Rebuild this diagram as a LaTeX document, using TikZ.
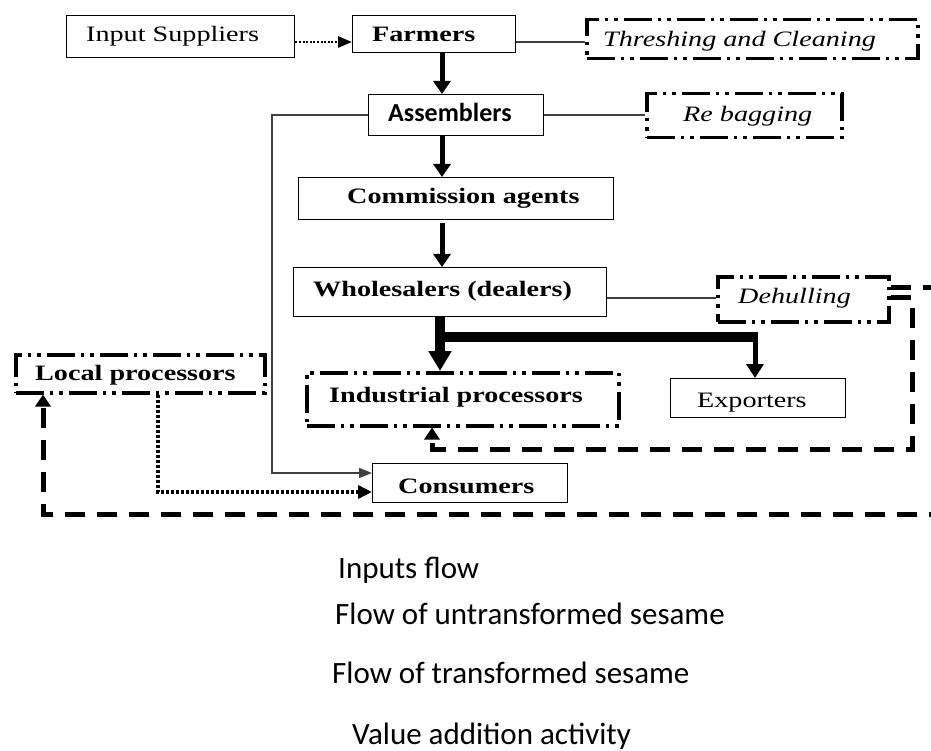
\documentclass[tikz,border=0pt]{standalone}
\usepackage{fontspec}
\setmainfont{Liberation Serif}
\newfontfamily\calib{Carlito}
\usetikzlibrary{arrows.meta}
\newcommand{\strtxt}[1]{\scalebox{1.28}[1]{#1}}
\begin{document}
\begin{tikzpicture}[x=1pt,y=-1pt,
  box/.style={draw=black, line width=1.3pt, inner sep=0pt, anchor=north west},
  vabox/.style={draw=black, line width=3.5pt, inner sep=0pt, anchor=north west, line cap=butt,
     dash pattern=on 28pt off 6pt on 3.5pt off 6pt on 3.5pt off 6pt},
  txt/.style={inner sep=0pt, anchor=base west, font=\fontsize{22}{26}\selectfont},
  btxt/.style={txt, font=\fontsize{22}{26}\selectfont\bfseries},
  itxt/.style={txt, font=\fontsize{22}{26}\selectfont\itshape},
  legtxt/.style={inner sep=0pt, anchor=base west, font=\calib\fontsize{31}{36}\selectfont},
  thinline/.style={draw=black!75, line width=1.2pt},
  thinarrow/.style={thinline, -{Triangle[length=13pt,width=10pt]}},
  mainarrow/.style={draw=black, line width=5pt, -{Triangle[length=13pt,width=17pt]}},
  inflow/.style={draw=black, line width=2.8pt, dash pattern=on 2pt off 1.6pt, -{Triangle[length=14pt,width=11pt]}},
  locflow/.style={draw=black, line width=4pt, dash pattern=on 3pt off 2pt, -{Triangle[length=14pt,width=13pt]}},
  trflow/.style={draw=black, line width=5pt, dash pattern=on 20pt off 12pt, -{Triangle[length=12pt,width=15pt]}}
]
\useasboundingbox (0,0) rectangle (931,751);

% boxes
\node[box, minimum width=228pt, minimum height=42pt] (inp) at (66,15) {};
\node[box, minimum width=163pt, minimum height=37pt] (farm) at (352,15) {};
\node[vabox, minimum width=331pt, minimum height=39pt] (thr) at (585,18) {};
\node[box, minimum width=175pt, minimum height=41pt] (asm) at (368,94) {};
\node[vabox, minimum width=195pt, minimum height=44pt] (reb) at (645,92) {};
\node[box, minimum width=315pt, minimum height=42pt] (com) at (298,177) {};
\node[box, minimum width=313pt, minimum height=49pt] (whl) at (293,267) {};
\node[vabox, minimum width=171pt, minimum height=45pt] (deh) at (716,275) {};
\node[vabox, minimum width=249pt, minimum height=38pt] (loc) at (14,353) {};
\node[vabox, minimum width=312pt, minimum height=53pt] (ind) at (305,371) {};
\node[box, minimum width=175pt, minimum height=39pt] (exp) at (670,378) {};
\node[box, minimum width=195pt, minimum height=39pt] (con) at (372,463) {};

% texts
\node[txt] (tinp) at (86,42) {\strtxt{Input Suppliers}};
\node[btxt] (tfarm) at (372,42) {\strtxt{Farmers}};
\node[itxt] (tthr) at (603,47) {\strtxt{Threshing and Cleaning}};
\node[inner sep=0pt, anchor=base west, font=\calib\fontsize{26}{30}\selectfont\bfseries] (tasm) at (388,122) {Assemblers};
\node[itxt] (treb) at (683,122) {\strtxt{Re bagging}};
\node[btxt] (tcom) at (347,204) {\strtxt{Commission agents}};
\node[btxt] (twhl) at (313,296) {\strtxt{Wholesalers (dealers)}};
\node[itxt] (tdeh) at (738,303) {\strtxt{Dehulling}};
\node[btxt] (tloc) at (35,380) {\strtxt{Local processors}};
\node[btxt] (tind) at (329,402) {\strtxt{Industrial processors}};
\node[txt] (texp) at (697,407) {\strtxt{Exporters}};
\node[btxt] (tcon) at (398,493) {\strtxt{Consumers}};

% legend
\node[legtxt] (l1) at (338,578) {Inputs flow};
\node[legtxt] (l2) at (335,624) {Flow of untransformed sesame};
\node[legtxt] (l3) at (332,683) {Flow of transformed sesame};
\node[legtxt] (l4) at (352,744) {Value addition activity};

% connectors
\draw[inflow] (inp.east |- 0,42) -- (farm.west |- 0,42);
\draw[thinline] (farm.east |- 0,42) -- (thr.west |- 0,42);
\draw[mainarrow] (farm.south -| 442,0) -- (asm.north -| 442,0);
\draw[thinline] (asm.east |- 0,115) -- (reb.west |- 0,115);
\draw[thinarrow] (asm.west |- 0,115) -- (272,115) -- (272,473) -- (con.west |- 0,473);
\draw[mainarrow] (asm.south -| 442,0) -- (com.north -| 442,0);
\draw[mainarrow] ([yshift=-3pt]com.south -| 442,0) -- (whl.north -| 442,0);
\draw[thinline] (whl.east |- 0,298) -- (deh.west |- 0,298);
\draw[draw=black, line width=10pt, -{Triangle[length=20pt,width=22pt]}] (whl.south -| 440,0) -- (ind.north -| 440,0);
\draw[draw=black, line width=10pt] (435,337) -- (758,337);
\draw[draw=black, line width=5pt, -{Triangle[length=14pt,width=17pt]}] (755,337) -- (exp.north -| 755,0);
\draw[trflow] (deh.east |- 0,297) -- (912,297) -- (912,449) -- (432,449) -- (ind.south -| 432,0);
\draw[trflow] (deh.east |- 0,287) -- (950,287) -- (950,514) -- (43,514) -- (loc.south -| 43,0);
\draw[locflow] (loc.south -| 158,0) -- (158,492) -- (con.west |- 0,492);
\end{tikzpicture}
\end{document}
